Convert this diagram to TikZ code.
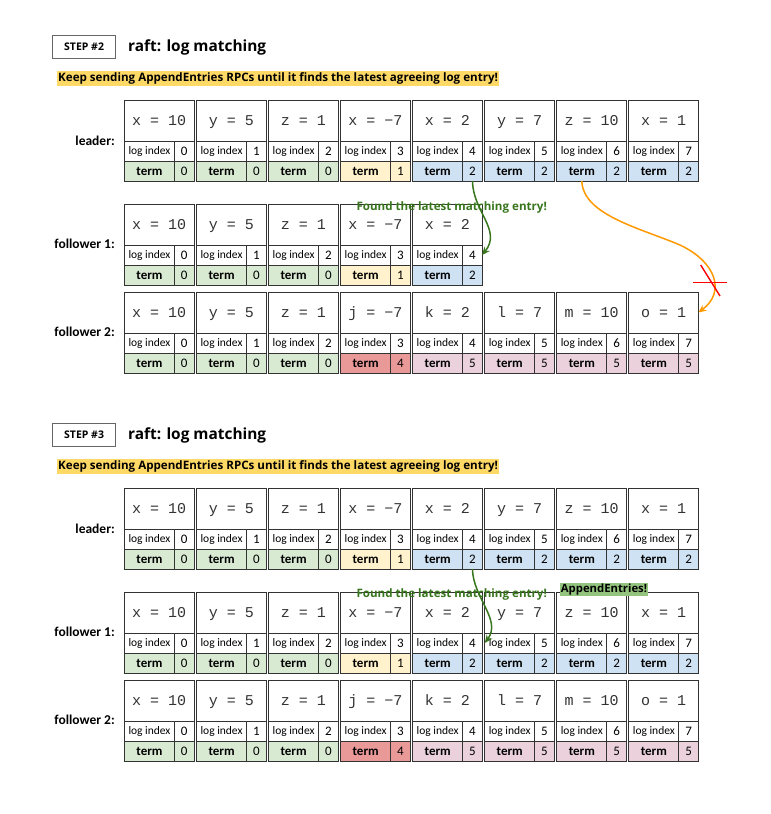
\documentclass[tikz,border=0pt]{standalone}
\usepackage{fontspec}
\usetikzlibrary{arrows.meta}
\newfontfamily\osans{Open Sans}
\newfontfamily\carl{Carlito}
\newfontfamily\mono{Liberation Mono}
\definecolor{tG}{HTML}{D9EAD3}
\definecolor{tY}{HTML}{FFF2CC}
\definecolor{tB}{HTML}{CFE2F3}
\definecolor{tR}{HTML}{EA9999}
\definecolor{tP}{HTML}{EAD1DC}
\definecolor{hiY}{HTML}{FFD966}
\definecolor{grn}{HTML}{38761D}
\definecolor{aeG}{HTML}{93C47D}
\definecolor{org}{HTML}{FF9900}
\definecolor{cellc}{HTML}{333333}
\definecolor{stepc}{HTML}{666666}
\definecolor{codec}{HTML}{333333}
\tikzset{
 cellline/.style={draw=cellc, line width=0.9pt, inner sep=0pt, outer sep=0pt},
 codebox/.style={cellline, fill=white, minimum width=69.5pt, minimum height=41pt, text height=12pt, text depth=2pt, text=codec, font=\mono\fontsize{15}{15}\selectfont},
 libox/.style={cellline, fill=white, minimum width=50pt, minimum height=20pt, text height=9pt, text depth=2pt, font=\carl\fontsize{11.5}{11.5}\selectfont},
 numbox/.style={cellline, fill=white, minimum width=19.5pt, minimum height=20pt, text height=10pt, text depth=0.5pt, font=\carl\fontsize{13}{13}\selectfont},
 termbox/.style={cellline, minimum width=50pt, minimum height=20pt, text height=10pt, text depth=0.5pt, font=\carl\bfseries\fontsize{13}{13}\selectfont},
 rowlabel/.style={anchor=east, inner sep=0pt, font=\carl\bfseries\fontsize{13.5}{13.5}\selectfont},
 stepbox/.style={draw=stepc, line width=1.2pt, minimum width=63pt, minimum height=23pt, inner sep=0pt, anchor=north west, font=\osans\bfseries\fontsize{10.5}{10.5}\selectfont},
 titletext/.style={anchor=west, inner sep=0pt, font=\osans\bfseries\fontsize{15.4}{15.4}\selectfont},
 hilite/.style={fill=hiY, anchor=west, inner xsep=1pt, minimum height=15pt, inner ysep=0pt, font=\osans\bfseries\fontsize{11.6}{11.6}\selectfont},
 greenlabel/.style={text=grn, inner sep=0pt, font=\osans\bfseries\fontsize{11.6}{11.6}\selectfont},
 aelabel/.style={fill=aeG, inner xsep=1pt, minimum height=13pt, inner ysep=0pt, font=\osans\bfseries\fontsize{11.3}{11.3}\selectfont},
 grnarrow/.style={draw=grn, line width=1.5pt, -{Stealth[length=8pt,width=7pt]}},
 orgarrow/.style={draw=org, line width=1.5pt, -{Stealth[length=8pt,width=7pt]}},
 redx/.style={draw=red, line width=1.4pt},
}
\newcommand\logcell[6]{%
 \node[codebox, anchor=north west] (#1#3c) at ({124.5+72.05*#3},#2) {#4};
 \node[libox, anchor=north west] (#1#3il) at ({124.5+72.05*#3},#2+41) {log index};
 \node[numbox, anchor=north west] (#1#3in) at ({174.5+72.05*#3},#2+41) {#3};
 \node[termbox, fill=#6, anchor=north west] (#1#3tl) at ({124.5+72.05*#3},#2+61) {term};
 \node[numbox, fill=#6, anchor=north west] (#1#3tn) at ({174.5+72.05*#3},#2+61) {#5};
}
\newcommand\logrow[3]{%
 \foreach \cd/\tm/\fl [count=\k from 0] in {#3} {\logcell{#1}{#2}{\k}{\cd}{\tm}{\fl}}%
}
\begin{document}
\begin{tikzpicture}[x=1pt,y=-1pt]
\useasboundingbox (0,0) rectangle (771,814);
\fill[white] (0,0) rectangle (771,814);
% ---------- STEP 2 ----------
\node[stepbox] (st2) at (52,35) {STEP \#2};
\node[titletext] (ti2) at (128,47) {raft: log matching};
\node[hilite] (hl2) at (57,78.5) {Keep sending AppendEntries RPCs until it finds the latest agreeing log entry!};
\node[rowlabel] (lb2a) at (115,141) {leader:};
\node[rowlabel] (lb2b) at (115,244) {follower 1:};
\node[rowlabel] (lb2c) at (115,332) {follower 2:};
\logrow{s2L}{100}{x = 10/0/tG, y = 5/0/tG, z = 1/0/tG, x = −7/1/tY, x = 2/2/tB, y = 7/2/tB, z = 10/2/tB, x = 1/2/tB}
\logrow{s2F}{204}{x = 10/0/tG, y = 5/0/tG, z = 1/0/tG, x = −7/1/tY, x = 2/2/tB}
\logrow{s2G}{292}{x = 10/0/tG, y = 5/0/tG, z = 1/0/tG, j = −7/4/tR, k = 2/5/tP, l = 7/5/tP, m = 10/5/tP, o = 1/5/tP}
\node[greenlabel] (gl2) at (451.7,207) {Found the latest matching entry!};
\draw[grnarrow] (s2L4tn.south) .. controls (473,212) and (502,230) .. (s2F4in.east);
\draw[orgarrow] (s2L6tl.south) .. controls (583,215) and (640,228) .. (680,245) .. controls (716,262) and (726,292) .. (s2G7c.east);
\coordinate (x1a) at (693,282.7);
\coordinate (x1b) at (727,282.7);
\coordinate (x2a) at (700.7,265);
\coordinate (x2b) at (720,296);
\draw[redx] (x1a) -- (x1b);
\draw[redx] (x2a) -- (x2b);
% ---------- STEP 3 ----------
\node[stepbox] (st3) at (52,423) {STEP \#3};
\node[titletext] (ti3) at (128,435) {raft: log matching};
\node[hilite] (hl3) at (57,466.5) {Keep sending AppendEntries RPCs until it finds the latest agreeing log entry!};
\node[rowlabel] (lb3a) at (115,529) {leader:};
\node[rowlabel] (lb3b) at (115,632) {follower 1:};
\node[rowlabel] (lb3c) at (115,720) {follower 2:};
\logrow{s3L}{488}{x = 10/0/tG, y = 5/0/tG, z = 1/0/tG, x = −7/1/tY, x = 2/2/tB, y = 7/2/tB, z = 10/2/tB, x = 1/2/tB}
\logrow{s3F}{592}{x = 10/0/tG, y = 5/0/tG, z = 1/0/tG, x = −7/1/tY, x = 2/2/tB, y = 7/2/tB, z = 10/2/tB, x = 1/2/tB}
\logrow{s3G}{680}{x = 10/0/tG, y = 5/0/tG, z = 1/0/tG, j = −7/4/tR, k = 2/5/tP, l = 7/5/tP, m = 10/5/tP, o = 1/5/tP}
\node[greenlabel] (gl3) at (451.7,594) {Found the latest matching entry!};
\node[aelabel] (ae3) at (604,589.5) {AppendEntries!};
\draw[grnarrow] (s3L4tn.south) .. controls (473,598) and (502,620) .. (s3F5il.west);
\end{tikzpicture}
\end{document}
